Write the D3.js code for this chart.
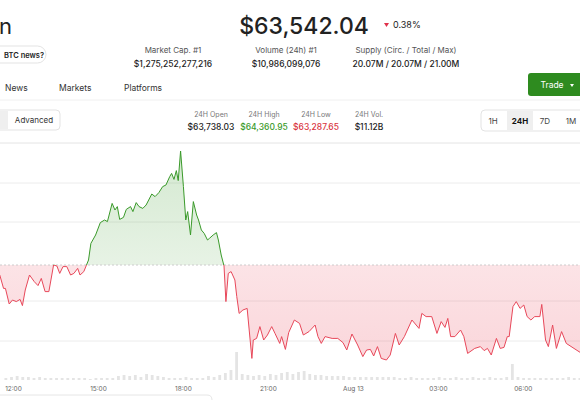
<!DOCTYPE html><html><head><meta charset="utf-8">
<script src="https://cdn.jsdelivr.net/npm/d3@7"></script>
<style>body{margin:0;background:#fff;font-family:Inter,"Noto Sans",sans-serif}</style></head><body>
<svg id="c" width="580" height="400"></svg>
<script>
// minutes since Aug 12 12:00
const times=[-28,-20,-16,-8,-1,7,15,20,26,35,45,53,60,68,76,86,93,99,106,114,122,129,137,142,150,160,165,175,185,194,200,210,216,221,226,234,240,249,254,261,267,275,282,294,301,309,317,324,332,336,341,346,350,355,361,366,370,376,382,389,393,399,405,412,416,424,431,435,441,447,451,456,462,470,474,479,487,496,506,509,516,523,531,539,548,555,565,569,577,584,596,607,615,627,640,646,653,661,676,688,699,707,718,730,741,749,757,764,772,780,791,799,810,818,829,845,860,866,875,887,898,907,915,921,927,936,948,955,963,978,990,998,1005,1013,1024,1032,1040,1047,1051,1059,1066,1074,1082,1089,1097,1105,1116,1120,1128,1134,1143,1151,1162,1172,1202];
const prices=[63688,63621,63621,63543,63563,63555,63566,63535,63613,63688,63655,63635,63671,63605,63605,63738,63733,63696,63730,63730,63688,63696,63721,63688,63705,63763,63846,63888,63950,63963,63955,64046,64013,64030,63966,63976,64016,64030,64005,64050,64030,64021,64038,64093,64080,64100,64130,64138,64180,64196,64166,64210,64160,64308,64130,63963,64005,63888,64055,63988,63963,63913,63896,63863,63871,63888,63900,63863,63788,63733,63555,63696,63705,63663,63580,63496,63513,63521,63271,63363,63371,63430,63363,63388,63430,63396,63346,63380,63316,63400,63463,63446,63388,63405,63438,63380,63346,63380,63371,63371,63350,63313,63393,63338,63280,63313,63316,63283,63330,63271,63263,63288,63396,63338,63380,63463,63421,63496,63480,63480,63396,63455,63426,63471,63380,63380,63413,63380,63296,63321,63330,63310,63321,63288,63371,63321,63326,63380,63380,63530,63555,63521,63538,63480,63463,63480,63480,63541,63363,63330,63438,63321,63405,63346,63300];
const openPrice=63738.03;
const gridPrices=[64348,64148,63953,63558,63358];
const tickMinutes=[0,180,360,540,720,900,1080];
const tickLabels=["12:00","15:00","18:00","21:00","Aug 13","03:00","06:00"];
// volume every 12 min starting -24
const volumes=[2,3,4,3,3,2,3,2,2,2,2,2,2,2,2,1,2,2,2,2,4,5,4,5,3,6,5,4,3,2,2,2,3,2,2,2,4,3,5,7,10,28,6,5,4,5,4,6,5,7,8,6,8,9,6,5,5,4,4,4,4,3,3,3,3,3,3,3,3,3,2,2,3,2,2,2,2,3,2,2,3,2,2,3,2,2,3,2,2,3,16,3,2,2,2,2,2,2,2,2,3,2,2,2,2,2,3,2,12,18,4,4,3,4,3,2,2,2,3,2,2,3,3,2];

const svg=d3.select("#c");
const x=d3.scaleLinear().domain([-27.5,1201]).range([0,580]);
const y=d3.scaleLinear().domain([openPrice,64363]).range([265,140]);
const yb=y(openPrice);
const T=(t,xx,yy,o={})=>svg.append("text").attr("x",xx).attr("y",yy).text(t)
 .attr("font-size",o.s||9).attr("fill",o.c||"#222").attr("font-weight",o.w||400).attr("text-anchor",o.a||"start").attr("font-family","Inter,'Noto Sans',sans-serif");
T("n",-1,34,{s:22});
T("$63,542.04",304,34,{s:23,w:500,a:"middle"});
svg.append("path").attr("d","M384,23 l5,0 l-2.5,4z").attr("fill","#e0314b");
T("0.38%",393,28,{s:9,c:"#222"});
svg.append("rect").attr("x",-10).attr("y",46).attr("width",56).attr("height",17).attr("rx",8.5).attr("fill","#fff").attr("stroke","#e3e3e3");
T("BTC news?",4,58,{s:7.5,w:600});
[["Market Cap. #1","$1,275,252,277,216",173],["Volume (24h) #1","$10,986,099,076",286],["Supply (Circ. / Total / Max)","20.07M / 20.07M / 21.00M",406]].forEach(d=>{
 T(d[0],d[2],53,{s:8,c:"#555",a:"middle"});T(d[1],d[2],67,{s:8.5,w:500,a:"middle"});});
T("News",5,91,{s:8.5,c:"#333"});T("Markets",59,91,{s:8.5,c:"#333"});T("Platforms",124,91,{s:8.5,c:"#333"});
svg.append("line").attr("x1",0).attr("x2",580).attr("y1",100).attr("y2",100).attr("stroke","#f0f0f0");
svg.append("rect").attr("x",528).attr("y",73).attr("width",60).attr("height",23).attr("rx",3).attr("fill","#2e8b1f");
T("Trade",552,88,{s:8.5,c:"#fff",a:"middle"});
svg.append("path").attr("d","M570,84 l4,0 l-2,3z").attr("fill","#fff");
svg.append("rect").attr("x",-5).attr("y",110).attr("width",65).attr("height",20).attr("rx",4).attr("fill","#fff").attr("stroke","#e3e3e3");
svg.append("rect").attr("x",-4).attr("y",111).attr("width",12).attr("height",18).attr("fill","#efefef");
T("Advanced",34,123,{s:8,c:"#333",a:"middle"});
[["24H Open","$63,738.03","#222",211],["24H High","$64,360.95","#3a9a2a",264],["24H Low","$63,287.65","#d9343e",316],["24H Vol.","$11.12B","#222",369]].forEach(d=>{
 T(d[0],d[3],117,{s:7,c:"#777",a:"middle"});T(d[1],d[3],130,{s:8.5,c:d[2],w:500,a:"middle"});});
svg.append("rect").attr("x",481).attr("y",110).attr("width",105).attr("height",21).attr("rx",4).attr("fill","#fff").attr("stroke","#e3e3e3");
svg.append("rect").attr("x",507).attr("y",111).attr("width",26).attr("height",19).attr("fill","#efefef");
[["1H",493],["24H",520],["7D",545],["1M",571]].forEach((d,i)=>T(d[0],d[1],124,{s:8,c:i==1?"#111":"#444",w:i==1?700:400,a:"middle"}));
svg.append("line").attr("x1",0).attr("x2",580).attr("y1",143).attr("y2",143).attr("stroke","#f0f0f0");
svg.selectAll(".g").data(gridPrices).join("line").attr("x1",0).attr("x2",580).attr("y1",d=>y(d)).attr("y2",d=>y(d)).attr("stroke","#ececec");
const vb=d3.scaleBand().domain(volumes.map((d,i)=>i)).range([x(-24),x(1460)]).padding(0.5);
svg.selectAll(".v").data(volumes).join("rect").attr("x",(d,i)=>vb(i)).attr("width",vb.bandwidth()).attr("y",d=>380-d).attr("height",d=>d).attr("fill","#e4e4e4");
const defs=svg.append("defs");
const g1=defs.append("linearGradient").attr("id","gg").attr("x1",0).attr("x2",0).attr("y1",0).attr("y2",1);
g1.append("stop").attr("offset","0").attr("stop-color","#3a9a2a").attr("stop-opacity",0.22);
g1.append("stop").attr("offset","1").attr("stop-color","#3a9a2a").attr("stop-opacity",0.04);
const g2=defs.append("linearGradient").attr("id","rg").attr("x1",0).attr("x2",0).attr("y1",0).attr("y2",1);
g2.append("stop").attr("offset","0").attr("stop-color","#e8344a").attr("stop-opacity",0.06);
g2.append("stop").attr("offset","1").attr("stop-color","#e8344a").attr("stop-opacity",0.2);
defs.append("clipPath").attr("id","ca").append("rect").attr("x",0).attr("y",0).attr("width",580).attr("height",yb);
defs.append("clipPath").attr("id","cb").append("rect").attr("x",0).attr("y",yb).attr("width",580).attr("height",200);
const data=times.map((t,i)=>[t,prices[i]]);
const area=d3.area().x(d=>x(d[0])).y0(yb).y1(d=>y(d[1]));
const line=d3.line().x(d=>x(d[0])).y(d=>y(d[1]));
svg.append("path").attr("d",area(data)).attr("fill","url(#gg)").attr("clip-path","url(#ca)");
svg.append("path").attr("d",area(data)).attr("fill","url(#rg)").attr("clip-path","url(#cb)");
svg.append("line").attr("x1",0).attr("x2",580).attr("y1",yb).attr("y2",yb).attr("stroke","#ccc").attr("stroke-dasharray","2,2");
svg.append("path").attr("d",line(data)).attr("fill","none").attr("stroke","#3a9a2a").attr("stroke-width",1).attr("clip-path","url(#ca)");
svg.append("path").attr("d",line(data)).attr("fill","none").attr("stroke","#e8485a").attr("stroke-width",1).attr("clip-path","url(#cb)");
const ax=svg.append("g").attr("transform","translate(0,383)").call(d3.axisBottom(x).tickValues(tickMinutes).tickFormat((d,i)=>tickLabels[i]).tickSize(0));
ax.select(".domain").remove();
ax.selectAll("text").attr("font-size",6.5).attr("fill","#666").attr("font-family","Inter,'Noto Sans',sans-serif");
svg.append("path").attr("d","M0,395 L207,395 Q212,395 212,400").attr("fill","none").attr("stroke","#e6e6e6");
</script></body></html>
